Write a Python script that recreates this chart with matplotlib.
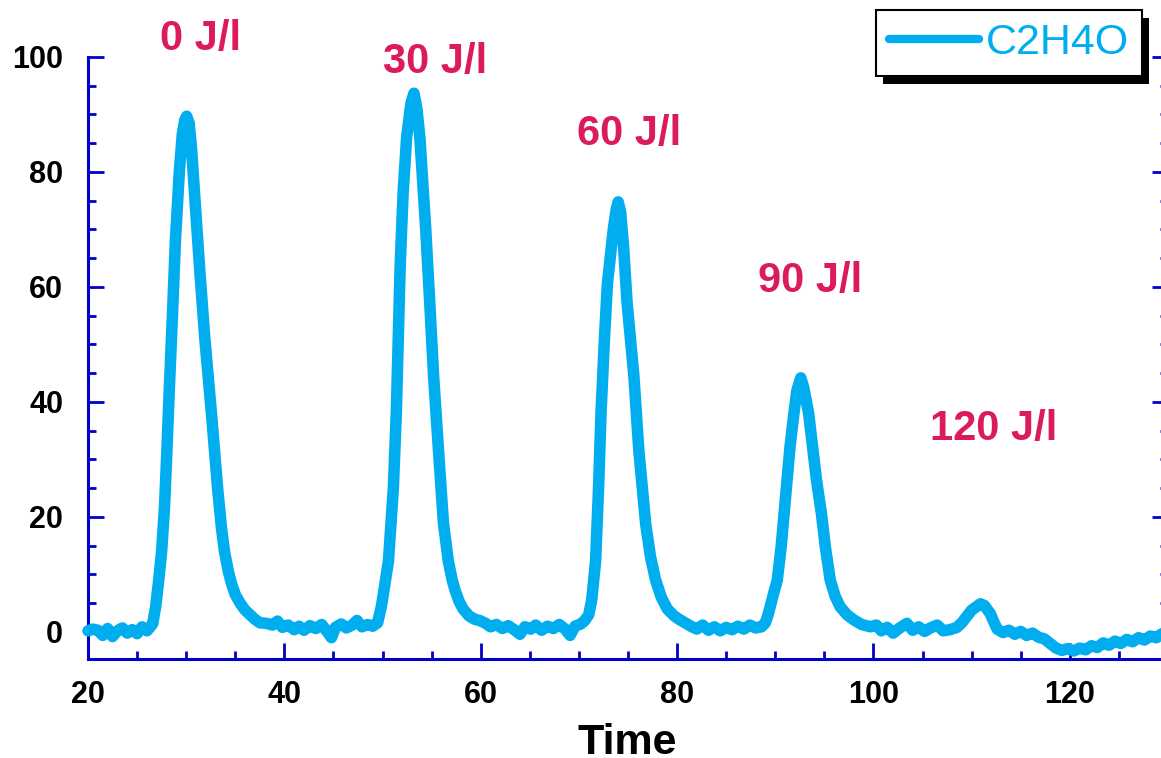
import matplotlib
matplotlib.use("Agg")
import matplotlib.pyplot as plt
from matplotlib.ticker import MultipleLocator, FixedLocator
from matplotlib.patches import Rectangle

# ---- data ----
time = [20.0, 20.5, 21.0, 21.5, 22.0, 22.5, 23.0, 23.5, 24.0, 24.5, 25.0, 25.5, 26.0, 26.4,
        26.6, 26.9, 27.2, 27.5, 27.8, 28.0, 28.3, 28.6, 28.9, 29.3, 29.6, 29.85, 30.05, 30.3,
        30.55, 30.9, 31.4, 31.9, 32.6, 33.2, 33.6, 33.9, 34.3, 34.6, 35.0, 35.5, 36.0, 36.5,
        37.0, 37.5, 38.2,
        38.8, 39.3, 39.8, 40.4, 41.0, 41.5, 42.0, 42.6, 43.2, 43.8, 44.3, 44.8, 45.2, 45.8,
        46.3, 46.9, 47.4, 47.9, 48.5, 49.0, 49.5,
        49.9, 50.3, 50.6, 51.1, 51.4, 51.6, 51.8, 52.1, 52.45, 52.9, 53.2, 53.5, 53.8, 54.4,
        54.8, 55.2, 55.7, 56.2, 56.7, 57.1, 57.4, 57.8, 58.2, 58.8, 59.4, 59.9,
        60.5, 61.0, 61.6, 62.2, 62.8, 63.4, 64.0, 64.5, 65.1, 65.6, 66.2, 66.8, 67.4, 68.0,
        68.6, 69.1, 69.6, 70.2, 70.6,
        71.0, 71.3, 71.7, 72.0, 72.25, 72.6, 72.9, 73.5, 73.8, 74.0, 74.25, 74.55, 74.9, 75.6,
        76.1, 76.8, 77.3, 77.8, 78.4, 79.0, 79.7, 80.3,
        80.8, 81.4, 82.0, 82.6, 83.2, 83.8, 84.4, 85.0, 85.6, 86.2, 86.8, 87.4, 88.0, 88.6, 89.0,
        89.3, 89.8, 90.2, 90.6, 90.9, 91.2, 91.5, 91.9, 92.2, 92.6, 92.9, 93.4, 93.8, 94.2,
        94.7, 95.1, 95.6, 96.1, 96.6, 97.3, 98.0, 98.8, 99.7,
        100.3, 100.8, 101.4, 102.0, 102.6, 103.4, 104.0, 104.6, 105.2, 105.8, 106.5, 107.1,
        107.8, 108.5,
        109.0, 109.5, 110.0, 110.5, 110.9, 111.3, 111.9, 112.3, 112.6, 113.2, 113.8, 114.4,
        115.0, 115.6, 116.2, 116.8, 117.4, 118.0, 118.6, 119.2, 119.8, 120.4, 121.0, 121.6,
        122.2, 122.8, 123.4, 124.0, 124.6, 125.2, 125.8, 126.4, 127.0, 127.6, 128.2, 128.8,
        129.4, 130.0]
signal = [0.2, 0.5, 0.3, -0.6, 0.6, -0.8, 0.2, 0.7, -0.2, 0.4, -0.3, 0.9, 0.2, 1.0,
          1.5, 4.5, 9.0, 14.0, 22.0, 30.0, 43.0, 55.0, 68.0, 80.0, 86.5, 89.0, 89.7, 88.5,
          84.0, 75.0, 62.5, 51.0, 37.5, 25.0, 18.0, 14.0, 10.5, 8.5, 6.5, 5.0, 3.8, 3.0,
          2.2, 1.6, 1.5,
          1.2, 1.9, 0.8, 1.2, 0.4, 1.0, 0.3, 1.1, 0.6, 1.3, 0.2, -1.0, 0.8, 1.4,
          0.7, 1.2, 2.0, 0.9, 1.3, 1.0, 1.6,
          4.6, 9.0, 12.3, 25.0, 38.0, 51.0, 64.0, 76.5, 86.0, 92.0, 93.7, 91.0, 86.0, 70.0,
          57.5, 44.5, 31.5, 19.0, 12.3, 9.0, 7.2, 5.3, 4.0, 2.8, 2.2, 2.0,
          1.5, 0.9, 1.3, 0.6, 1.1, 0.4, -0.4, 0.9, 0.5, 1.2, 0.3, 1.0, 0.6, 1.3,
          0.5, -0.6, 1.0, 1.4, 2.0,
          3.0, 5.5, 12.3, 25.0, 38.0, 51.0, 60.5, 70.0, 73.5, 74.8, 73.0, 67.0, 57.4, 44.5,
          31.6, 18.8, 13.0, 9.1, 6.0, 4.0, 2.8, 2.1,
          1.6, 1.0, 0.5, 1.2, 0.3, 0.9, 0.2, 0.8, 0.4, 1.0, 0.5, 1.2, 0.7, 0.9, 1.6,
          3.2, 6.5, 9.0, 14.8, 20.6, 26.4, 32.2, 38.0, 42.0, 44.2, 42.5, 38.0, 32.2, 26.4,
          20.6, 14.8, 9.0, 6.2, 4.4, 3.0, 2.1, 1.3, 0.9,
          1.2, 0.2, 0.8, -0.2, 0.6, 1.5, 0.3, 0.9, 0.1, 0.7, 1.2, 0.2,
          0.4, 0.8,
          1.6, 2.7, 3.8, 4.4, 4.9, 4.6, 3.2, 1.6, 0.5, -0.1, 0.3, -0.4,
          0.1, -0.6, -0.2, -0.9, -1.2, -2.0, -2.8, -3.2, -2.9, -3.3, -2.8, -3.1,
          -2.4, -2.7, -1.9, -2.3, -1.6, -2.0, -1.3, -1.7, -1.0, -1.4, -0.7, -1.0,
          -0.3, -0.6]

peak_labels = ["0 J/l", "30 J/l", "60 J/l", "90 J/l", "120 J/l"]
peak_label_x = [31.5, 55.4, 75.1, 93.5, 112.2]
peak_label_y = [101.2, 97.2, 84.7, 59.1, 33.4]

x_ticks = [20, 40, 60, 80, 100, 120]
y_ticks = [0, 20, 40, 60, 80, 100]
series_name = "C2H4O"
x_title = "Time"

# ---- styling ----
W, H = 1161, 758
LINE_C = "#00AEEF"
AXIS_C = "#0000C8"
LABEL_C = "#DB1B5B"
FONT = "Liberation Sans"

plt.rcParams["font.family"] = [FONT, "DejaVu Sans"]

fig = plt.figure(figsize=(W / 100, H / 100), dpi=100)
ax = fig.add_axes([88 / W, 99 / H, (1168 - 88) / W, 602 / H])

ax.plot(time, signal, color=LINE_C, lw=8.3, solid_joinstyle="round",
        solid_capstyle="round", label=series_name, zorder=3, clip_on=False)

ax.set_xlim(20, 130)
ax.set_ylim(-4.7, 100)

ax.xaxis.set_major_locator(FixedLocator(x_ticks))
ax.yaxis.set_major_locator(FixedLocator(y_ticks))
ax.xaxis.set_minor_locator(MultipleLocator(5))
ax.yaxis.set_minor_locator(MultipleLocator(5))

for side in ["left", "bottom", "right"]:
    ax.spines[side].set_color(AXIS_C)
    ax.spines[side].set_linewidth(2.2)
ax.spines["top"].set_visible(False)

ax.tick_params(which="both", direction="in", color=AXIS_C, right=True, top=False,
               labelright=False)
ax.tick_params(which="major", length=11.5, width=2.0)
ax.tick_params(which="minor", length=5.5, width=2.0)
ax.tick_params(axis="y", which="major", pad=18)
ax.tick_params(axis="x", which="major", pad=15)
for lab in ax.get_xticklabels() + ax.get_yticklabels():
    lab.set_fontsize(22)
    lab.set_fontweight("bold")
    lab.set_color("black")

ax.set_xlabel(x_title, fontsize=31, fontweight="bold", va="baseline")
ax.xaxis.set_label_coords(0.499, -(754 - 659) / 602)

for t, x, y in zip(peak_labels, peak_label_x, peak_label_y):
    ax.text(x, y, t, color=LABEL_C, fontsize=30, fontweight="bold",
            ha="center", va="baseline", clip_on=False)

leg = ax.legend(loc="upper left", bbox_to_anchor=(876 / W, 1 - 10 / H),
                bbox_transform=fig.transFigure, borderaxespad=0,
                fontsize=31, handlelength=2.1, handletextpad=0.16, borderpad=0.3,
                fancybox=False, frameon=True, framealpha=1)
leg.get_frame().set_edgecolor("black")
leg.get_frame().set_linewidth(1.5)
for txt in leg.get_texts():
    txt.set_color(LINE_C)
for h in leg.get_lines():
    h.set_linewidth(6)
    h.set_solid_capstyle("round")
leg.set_zorder(10)

fig.canvas.draw()
bb = leg.get_frame().get_window_extent()
inv = fig.transFigure.inverted()
(x0, y0), (x1, y1) = inv.transform([(bb.x0 + 7, bb.y0 - 8), (bb.x1 + 7, bb.y1 - 8)])
ax.add_patch(Rectangle((x0, y0), x1 - x0, y1 - y0, transform=fig.transFigure,
                       facecolor="black", edgecolor="none", zorder=9, clip_on=False))

fig.savefig("out.png", dpi=100)
